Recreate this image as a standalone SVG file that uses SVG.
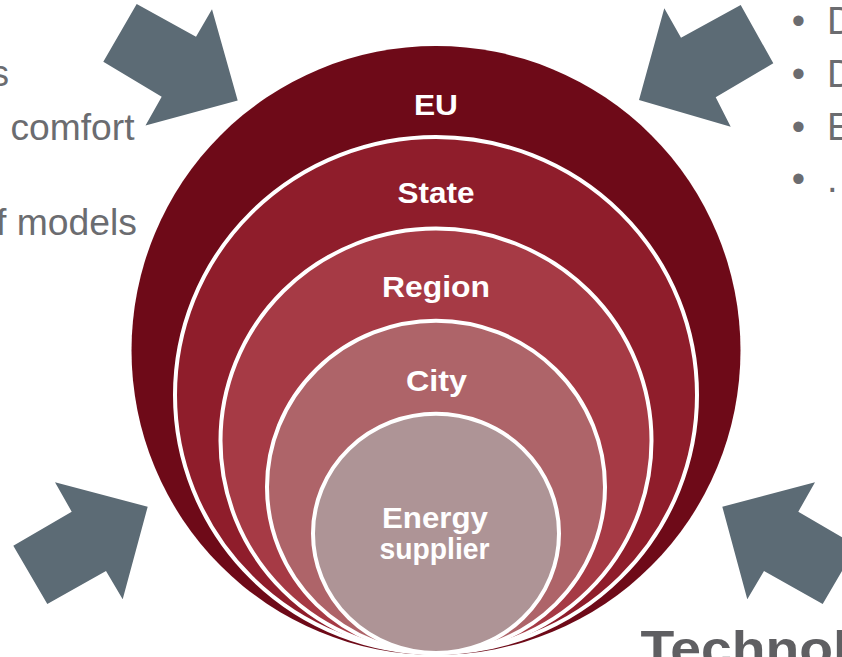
<svg xmlns="http://www.w3.org/2000/svg" width="842" height="657" viewBox="0 0 842 657">
  <style>
    .ring { stroke: #FFFFFF; stroke-width: 4; }
    .lbl { font-family: "Liberation Sans", Arial, sans-serif; font-weight: bold; font-size: 30px; fill: #FFFFFF; text-anchor: middle; }
    .side { font-family: "Liberation Sans", Arial, sans-serif; font-size: 36px; fill: #6B6C70; }
    .bul { font-family: "Liberation Sans", Arial, sans-serif; font-size: 38px; fill: #6B6C70; }
    .arrow { fill: #5C6B75; }
    .title { font-family: "Liberation Sans", Arial, sans-serif; font-weight: bold; font-size: 50px; fill: #5F5F62; }
  </style>
  <rect width="842" height="657" fill="#FFFFFF"/>

  <g id="arrows">
    <polygon class="arrow" points="136.7,4 196,36.7 212,9.3 237.7,100.5 145.5,125.5 161.7,96.7 103.3,61.7"/>
    <polygon class="arrow" points="740.7,5 773.3,63.3 715.7,97.3 730.7,126.7 639,100 664.3,8.3 681,37.7"/>
    <polygon class="arrow" points="55,482.3 147.7,506.7 122.7,599.3 106,571 47.3,604 13.3,545.7 71.7,511.7"/>
    <polygon class="arrow" points="815,482.3 722.3,506.7 747.3,599.3 764,571 822.7,604 856.7,545.7 798.3,511.7"/>
  </g>

  <g id="eu">
    <circle cx="436" cy="350.5" r="304.5" fill="#6E0A18"/>
    <text class="lbl" x="436" y="114.5" textLength="44" lengthAdjust="spacingAndGlyphs">EU</text>
  </g>
  <g id="state">
    <ellipse class="ring" cx="436" cy="395" rx="261" ry="258" fill="#8F1D2B"/>
    <text class="lbl" x="436" y="202.5" textLength="77" lengthAdjust="spacingAndGlyphs">State</text>
  </g>
  <g id="region">
    <ellipse class="ring" cx="436" cy="440.8" rx="215.5" ry="212.2" fill="#A63A45"/>
    <text class="lbl" x="436" y="296.5" textLength="108" lengthAdjust="spacingAndGlyphs">Region</text>
  </g>
  <g id="city">
    <ellipse class="ring" cx="436" cy="486.9" rx="169" ry="166.1" fill="#AE6469"/>
    <text class="lbl" x="436.5" y="390.5" textLength="61" lengthAdjust="spacingAndGlyphs">City</text>
  </g>
  <g id="energy-supplier">
    <ellipse class="ring" cx="436" cy="533.4" rx="123" ry="119.6" fill="#AE9496"/>
    <text class="lbl" x="435" y="528" textLength="106" lengthAdjust="spacingAndGlyphs">Energy</text>
    <text class="lbl" x="434.5" y="559" textLength="110" lengthAdjust="spacingAndGlyphs">supplier</text>
  </g>

  <g id="left-text">
    <text class="side" x="9" y="85.5" text-anchor="end">s</text>
    <text class="side" x="134.5" y="139.5" text-anchor="end" textLength="124" lengthAdjust="spacingAndGlyphs">comfort</text>
    <text class="side" x="137" y="235" text-anchor="end" textLength="141" lengthAdjust="spacingAndGlyphs">f models</text>
  </g>

  <g id="right-text">
    <text class="bul" x="798.3" y="33.5" text-anchor="middle">•</text>
    <text class="bul" x="827" y="33.5">D</text>
    <text class="bul" x="798.3" y="86.5" text-anchor="middle">•</text>
    <text class="bul" x="827" y="87">D</text>
    <text class="bul" x="798.3" y="139.5" text-anchor="middle">•</text>
    <text class="bul" x="827" y="139.5">E</text>
    <text class="bul" x="798.3" y="192" text-anchor="middle">•</text>
    <text class="bul" x="827" y="192">.</text>
  </g>

  <g id="title">
    <text class="title" x="640.5" y="666" textLength="208" lengthAdjust="spacingAndGlyphs">Technol</text>
  </g>
</svg>
